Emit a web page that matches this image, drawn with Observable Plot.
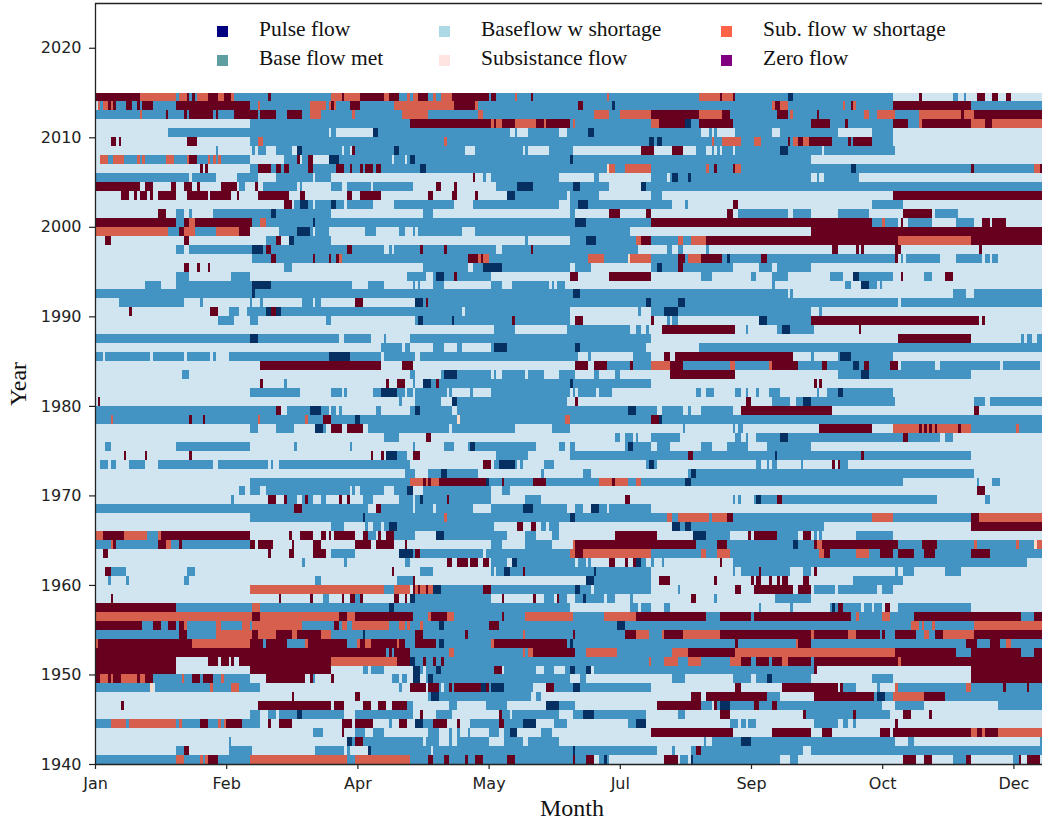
<!DOCTYPE html>
<html>
<head>
<meta charset="utf-8">
<script src="https://cdn.jsdelivr.net/npm/d3@7"></script>
<script src="https://cdn.jsdelivr.net/npm/@observablehq/plot@0.6"></script>
<style>
html,body{margin:0;padding:0;background:#fff;}
#wrap{position:relative;width:1042px;height:823px;overflow:hidden;}
.serif{position:absolute;font-family:"Liberation Serif",serif;color:#111;white-space:nowrap;line-height:1;}
.swatch{position:absolute;width:11px;height:11px;}
</style>
</head>
<body>
<div id="wrap"></div>
<script>
// Each row: run list for one year; letter = flow class, number = day the run starts.
const rows1940s = [
"B0 S31 B34 S40 B41 S42 Z43 B47 S59 B96 S99 B120 Z127 B129 Z133 B135 Z141 B142 Z145 B148 Z157 B160 Z182 B183 Z187 L190 B192 P194 B195 L196 Z217 L222 B223 L226 P227 B228 L261 B265 L268 Z308 L313 Z316 L319 B327 Z332 L334 B350 Z352 L353 Z355 L360",
"L0 B31 Z34 L36 B51 L60 B84 L95 B96 L97 P104 B105 L128 B129 P182 B183 L214 B220 L221 B227 Z229 B231 L270 B273",
"L0 B51 L52 P96 B98 Z99 B102 L125 B126 L131 B135 L136 B138 L150 B156 L163 B165 L177 B232 L233 B235 P246 B250 L305 B310 L312 B360",
"L0 B83 L87 Z94 L95 B99 L103 B106 L110 B127 L131 B135 L136 B138 L139 B142 L143 B150 L154 B156 P158 L161 B170 L174 Z212 L243 Z258 L273 Z277 L281 Z299 L303 Z304 S334 Z336 S338 Z339 S344",
"B0 S6 B12 S13 B31 S32 B33 Z40 B43 S47 B48 S49 Z50 B56 L63 Z66 L67 Z70 L75 Z94 L98 Z99 L106 B112 L113 Z116 L119 P122 B125 Z129 L134 Z138 L139 B143 Z154 B156 P163 L168 B175 L180 B203 P206 L210 B242 L245 B246 L248 B249 L252 B274 L283 B285 L287 B289 L290 Z305 L306",
"L0 B59 L63 B66 L69 B70 P77 B79 L95 B99 L121 Z124 L125 B130 L136 Z154 B155 L158 B159 L177 B182 P186 B190 L210 B222 L225 Z238 L242 Z270 B271 Z289 B290 L303 Z308 L311 Z318 L319",
"L0 Z10 L11 Z62 L90 Z91 L95 Z102 L105 Z108 L111 Z113 B119 L121 B135 L138 B149 L157 P172 B177 L183 Z214 B231 L235 Z236 B237 P238 B242 Z251 B253 Z258 B260 L300 B305 L316 B344",
"L0 Z75 L76 Z99 L101 B127 P128 B131 L166 B168 L170 Z227 L231 Z233 B256 L261 Z274 B297 P298 B301 S304 Z316 B324",
"B0 K21 L22 B23 S44 B45 S52 B55 L63 B116 L117 Z120 L126 Z127 B131 L132 B133 Z135 B136 Z137 P147 Z149 B150 P151 B156 L167 Z172 B175 P182 B185 L212 Z244 L246 Z262 L283 Z284 B285 L290 B298 L299 S305 B306 S332 B334 Z346 B347 Z355 B356",
"Z0 S2 Z5 S6 Z7 S10 Z16 S17 Z19 B22 S33 B34 Z37 B40 Z41 B45 S48 B49 L59 Z65 L80 Z82 B83 L84 Z90 L91 B113 L116 B117 L119 P121 L124 B126 P127 B129 L181 B185 L187 B220 L225 B243 L250 B252 P256 B258 L273 B296 L304 Z334"
];
const rows1950s = [
"Z0 L31 Z59 L90 B102 L104 B105 L110 P121 B124 L125 B126 P130 B132 Z152 L155 B156 L168 B171 L175 B179 P181 B183 P187 L189 B190 Z274 L275 Z334",
"Z0 L31 Z43 L47 Z48 L51 Z52 L53 Z55 S90 Z115 P120 B122 Z125 B126 Z129 B130 Z132 B133 S211 B212 S217 B222 S226 B231 S242 Z246 B250 Z252 B257 Z258 S262 Z264 B273 Z274 S306 Z307",
"Z0 B111 Z112 B113 Z114 B120 S135 B137 S163 B164 S165 Z167 B183 S187 B199 S220 Z226 S244 Z305 B328 Z334 B353 Z358",
"S0 Z1 S37 Z59 B64 Z65 B73 S80 Z81 B96 S100 Z101 S103 Z105 S115 Z116 B118 Z122 B130 P131 B133 S151 Z152 B180 P181 B182 Z244 B245 S267 Z268 B273 Z332 B336 Z341 B345 S347 B349",
"B0 Z32 B35 S46 Z60 S62 Z69 S75 Z77 S86 B90 P102 B103 Z122 B125 Z141 B142 S163 B164 Z182 B183 Z202 S206 B211 S216 Z217 S224 Z238 S273 Z274 S287 Z290 B299 Z300 B301 Z305 B313 S316 B318 Z320 S323 Z335",
"Z0 B18 Z22 B25 Z28 B31 Z32 S34 B35 S46 B48 S56 B59 S60 B79 Z91 B93 S94 B96 S98 B112 S116 B118 S119 B120 S124 B125 P131 B133 Z150 B154 P199 B202 S311 B314 S315 B316 S319 B320 S335",
"S0 Z60 S63 Z93 S96 Z99 B121 S127 Z128 S134 B137 Z155 B156 S164 B182 S194 Z206 B233 Z238 B250 Z251 B288 S290 B291 S300 B303 Z312 B353 Z358",
"Z0 B31 S60 B63 P112 B114 L181 B204 L207 B208 L212 B217 L219 B253 L254 B265 L266 B280 P281 B282 Z283 B285 L292 B293 L296 B297 L300 Z301 L303 B306 L334",
"L0 Z6 L7 Z70 L71 Z82 L83 B87 L89 Z94 L95 Z97 B99 Z101 L102 Z114 L116 Z118 L119 P120 B122 L151 Z155 L156 Z167 L168 B171 L175 Z176 B177 L180 B183 P186 B187 L194 B195 L198 B204 L205 Z227 L229 B236 L237 B259 L273",
"L0 S59 B110 S114 L120 Z121 S122 Z123 S124 Z126 S127 P129 B132 Z148 B151 P183 B185 L189 B190 L212 B222 L223 Z244 L246 Z251 L266 Z268 L273 B274 L282 B283 L298 B300 L304"
];
const rows1960s = [
"L0 B5 L6 B12 L13 B34 L36 B84 L86 B115 Z121 L122 P187 B190 L212 Z215 L219 Z236 L237 Z250 L251 Z252 L254 Z257 L258 Z260 L261 Z262 L264 Z270 L272 B289 L308",
"L0 Z4 B6 L12 B35 L38 Z113 L114 B124 L129 B151 L152 B153 P156 B158 Z163 B164 P190 B191 L212 B243 L244 B246 Z253 B254 L265 B270 L273 Z274 L275 B305 L306 B308 L312 B324 L330",
"L0 B79 L80 B95 L96 B118 L120 Z134 L136 Z138 L142 Z143 L146 Z148 L150 B151 L157 P159 B161 L183 B184 L187 B188 L189 Z196 L198 Z202 L203 Z205 P206 B208 L210 B212 L213 B216 L217 Z238 L239 B243 L355",
"L0 Z3 L5 Z66 L67 Z74 L76 Z83 L88 B90 L99 P116 B121 Z122 B124 L148 B149 S181 Z183 S186 B212 S231 B233 S237 B242 S276 Z278 B280 S290 B295 Z299 B304 Z306 B312 Z316 B320 Z334 B341",
"B0 S6 Z7 B8 Z24 S27 B29 Z32 B33 Z59 L61 Z62 L68 Z75 L76 Z83 L86 Z99 L105 Z107 L114 Z118 L119 B151 L155 B164 L174 S182 Z183 B229 Z237 B241 P266 B268 Z274 S275 Z277 B306 Z315 B321 S335 B336 S351 B352 K358 S359",
"S0 Z3 S11 B20 S24 Z25 L59 Z74 L75 Z78 L83 Z86 L88 Z89 L90 Z91 L99 Z102 B104 L107 Z108 L109 Z111 B114 L122 P130 B133 L157 B164 L168 B174 L177 Z198 L214 P228 B233 L242 Z249 L250 Z251 B260 L268 Z270 L273 B274 L275 B276 L277 B290 L304",
"L0 B90 L95 B103 L104 B106 L109 B110 P112 B115 L152 Z161 L163 Z166 L168 B170 L172 B173 L177 P220 B223 P225 B227 L278 Z334",
"L0 B59 P102 B103 S133 B134 P181 B183 S218 B220 S222 B234 S235 Z241 B243 S296 B304 Z334 S337",
"B0 Z76 B79 L104 Z107 B109 L121 B122 L129 B130 L144 B151 P163 B167 L180 B183 L186 P189 B192 L195 B196 L212",
"L0 B52 L53 Z66 L69 Z72 B73 L77 B79 Z80 B81 L83 B86 L88 Z93 L94 Z96 L97 B102 L106 B116 L121 B122 P124 B125 Z134 B135 L151 B164 L170 Z202 L204 B243 L244 B245 L246 B251 P252 B254 Z260 B262 L321 B339 L341"
];
const rows1970s = [
"L0 B55 L57 B59 L63 B65 L97 B98 L99 B101 L110 B114 P119 L121 B125 L151 B155 L158 Z336 L339",
"L0 B59 S120 Z125 S126 Z127 S128 Z131 P149 B150 Z155 B156 Z167 B172 S192 Z197 S198 B203 S206 B208 P225 B227 L308 B336 L337 B342 L345",
"L0 B118 L122 B127 P132 B134 L146 B170 L171 B186 L189 B226 P227 B229 L335",
"L0 B2 L5 B6 L8 B13 L19 B24 L45 B47 L66 B67 L68 B70 L120 Z148 L151 B152 P154 B160 L161 B162 L163 B171 L175 B210 P211 B213 L214 B252 L254 B256 L257 B258 L260 B269 L270 Z281 L282 Z283 B284 L287",
"L0 Z11 L12 Z19 L20 Z36 L37 Z105 L106 Z109 L110 P111 B115 L119 Z121 L124 B153 L165 B181 Z226 B228 P259 B260 Z292 B293 L334",
"L0 B4 L6 B31 L59 B76 L77 B97 L98 B121 L122 B133 L137 B142 P143 B145 L168 B177 L179 B181 L183 B202 P203 B205 L212 B214 L219 B231 L235 B241 L249 B256 L273",
"L0 B110 L116 Z126 L128 B198 L200 B202 L205 B206 L207 B212 L223 B244 L246 B248 L249 B252 P261 B264 Z308 B310 L322 B324 L327",
"L0 B59 L62 B69 L76 P84 B87 L88 Z90 L94 Z96 L102 B104 L135 B136 L160 B174 L181 B224 L225 B243 L244 B245 L247 Z276 L296 S304 Z314 S315 Z316 S317 Z318 S319 Z320 S321 Z329 S330 B334 S351 B352",
"B0 S6 B7 Z36 B37 Z41 B42 S62 B63 S80 B81 Z87 B90 P99 B101 K138 B139 S179 B181 Z212 P215 B216",
"B0 Z69 L71 B73 P82 B86 L89 B90 L92 B93 L94 B107 L109 B120 P122 B124 L136 B138 P203 B206 L214 B216 L224 B226 L227 B231 L243 Z246 L281 Z335 L337"
];
const rows1980s = [
"L0 Z1 L2 B116 L117 B122 L132 P136 B138 L180 Z183 L184 Z248 L250 B258 L265 B267 P270 B273 L305 B335 L339 B341",
"L0 B59 L78 B90 L94 B95 L96 B106 P109 B115 L118 B119 L121 B122 L134 B135 L136 B143 L144 B151 L181 B182 L183 B184 L191 B192 L197 B229 L231 B233 L236 B244 L246 B248 L249 B252 L253 B257 L261 B275 L276 B279 P283 B285 L304",
"L0 Z63 L64 B72 L73 Z111 L112 Z115 L118 B121 L122 P125 B128 Z130 B131 P181 B182 L212 Z274 L275 Z276 L277",
"L0 B33 L36 B120 L122 B132 P133 B138 L151 B152 L153 B155 L164 B165 L171 B177 L183 B190 L192 B198 L200 Z219 L244 B283 P292 B295 L334",
"L0 Z63 L109 Z117 L121 Z183 L188 Z190 B195 Z204 B205 S212 Z219 B224 S242 B244 S257 Z258 B268 Z277 B279 P289 B291 Z293 B295 Z303 L306 B307 L320 B322 L345 B346 L360",
"B0 L3 B4 L21 B22 L34 B35 L44 B45 L46 B51 P89 B97 L109 B110 L122 B124 L184 B188 L189 B205 L212 Z217 L219 Z221 L266 B273 L274 B283 P284 B288 L304",
"L0 B109 L117 B118 L120 B129 L133 B138 L140 B151 P152 B157 P183 B185 L210 B230",
"B0 P59 B62 L93 B95 L105 B110 L111 B120 L212 Z306 L334 B353 L354 B355 L357 B359",
"L0 B152 L160 B180 L204 B206 L208 B210 L211 Z216 L244 B248 L249 B260 P262 B265 L274 Z291 L292",
"L0 B47 L53 B59 L62 B88 L90 B122 P123 B125 P136 B137 Z159 B160 L181 Z183 L186 Z212 L213 B218 L219 B220 L222 P253 B256 Z273 L337 Z338 L339"
];
const rows1990s = [
"L0 Z13 L14 Z44 L47 B51 L55 B58 P65 Z67 P69 B71 L140 B141 L181 B207 L208 B212 P217 B222 L273 B276 L277",
"L0 B9 L34 B40 L41 B59 L60 B63 L64 B79 L83 B84 L86 Z99 L102 P122 B125 Z126 B127 P210 B212 P222 B225 L306 B307",
"B0 P60 B61 P182 B185 L264 B265 L266 B327 L332 B335",
"L0 B19 L25 B31 P60 B67 L98 B104 L110 B121 L122 B123 L124 B129 L133 B151 L155 B159 L173 B174 L175 B176 L179 B258 L259 B286 L288 P292 B295 L298 B299 L300",
"L0 B31 L36 B52 L59 B119 L126 B129 P130 B133 Z137 B138 L151 Z181 L184 Z196 L212 B231 L235 B250 L252 B258 L264 B280 L285 P289 B291 L304 Z307 L308 B316 L319 Z324 L327",
"L0 Z34 L36 Z39 L40 Z43 L44 B72 L75 B125 L142 B144 P148 B155 L181 B183 L189 B212 P214 B216 Z222 B224 L243 B253 L258 B260 L273",
"L0 B60 Z67 B69 Z83 B84 Z89 B90 Z92 S93 B94 Z142 S146 Z147 S148 B150 S188 B194 K203 S204 B212 Z222 B225 S226 Z231 B239 P241 B242 Z254 B256 Z305 L306 B307 L308 B309 L322 B328 L338 B339 L341 B342 L344",
"L0 B31 L34 B36 P60 B64 Z65 B67 Z96 B98 L110 B112 L113 B114 Z124 B125 Z133 B134 L153 B155 Z166 B167 L207 B218 L220 B222 L224 B233 L234 Z281 L283 Z290 L291 Z292 L293 Z305 L307 Z337 L338",
"L0 Z4 L6 Z34 L36 B65 Z69 L71 P74 B76 L90 B164 L165 B181 P187 B191 S206 Z208 B212 S222 B224 S227 Z233 S306 Z334",
"S0 B28 Z32 S34 B38 S46 Z55 L59 B70 P77 B82 L83 B84 L89 B103 L107 B116 L118 B121 L122 B123 L140 B145 L204 Z273"
];
const rows2000s = [
"Z0 B31 Z34 S36 Z38 B60 S63 B65 P83 B84 P183 B187 Z212 B296 S300 B301 L306 Z307 L308 B310 L319 B328 L335 Z338 L341 Z342 L347",
"L0 Z24 L27 B31 L34 B36 L37 B45 P67 B69 L90 B125 L129 B181 L183 Z196 L200 Z210 L212 Z241 L243 B245 L264 B266 L273 B283 L295 Z308 L319 B320 L329",
"L0 Z72 L75 B76 P78 B81 L83 B84 P90 B92 L95 B96 L106 B114 L137 B144 L177 B181 P184 B188 L220 B225 L226 Z243 L245 B296 L308",
"L0 Z10 L13 Z15 L16 Z17 L20 Z21 L22 Z24 L31 Z35 L43 Z44 L52 Z54 L55 Z62 L74 Z78 L80 Z96 L98 Z101 L109 Z127 L129 Z136 L138 Z145 L146 P157 B160 L180 B181 L192 B212 L216 Z304",
"Z0 L17 Z19 L22 Z29 L31 Z34 L37 Z39 L40 Z48 L54 B55 L57 Z61 L62 B64 L77 B78 L79 B90 L94 B96 L105 B106 L121 Z130 L132 Z137 L138 B153 P161 B167 P182 B185 L196 P208 B210",
"B0 L36 B37 L46 B54 L62 B69 L83 B84 L90 Z144 L145 B148 L149 B151 L177 B190 L192 B212 L218 B219 P220 B222 P226 B227 L273 B275 L276 B278 L291",
"L0 Z40 L41 Z42 L43 B59 Z62 B67 Z69 B71 Z72 B74 Z81 B83 Z92 B95 Z97 B98 Z101 B102 Z103 B106 Z107 B109 P124 B126 K195 S196 B198 S202 B212 S233 B234 Z236 B237 Z243 S244 B246 P288 B290 Z334 B335 S358 Z360",
"L0 S2 B5 S7 B11 S16 B17 S18 B19 S27 B30 S35 Z36 B39 S43 B44 S45 B46 S47 B48 L59 B72 Z77 L78 B79 Z81 L83 P89 B93 L113 B114 L118 B119 P120 B122 P181 B182 L273",
"L0 B46 L47 B60 L61 B62 L65 B69 L75 P77 B79 L94 B95 L97 Z98 B99 P114 B116 L141 B145 L163 B164 L165 B173 L182 Z208 L213 Z220 L224 B229 L233 B235 L236 B237 L238 B239 L243 B244 P261 B264 L277 B278 L305",
"L0 Z6 L8 Z9 L10 Z35 L39 B59 S62 B64 S133 B134 P211 B213 P214 B216 S235 B236 S239 B246 S251 B254 Z264 B265 S266 Z268 S270 Z272 B281 Z287 B288 Z289 B296 L304"
];
const rows2010s = [
"L0 B28 L89 B90 L92 P106 B108 L158 B160 L161 B165 L177 B180 P188 B190 L231 B234 L235 B236 L237 B244 L258 B261 L283 B296 L304",
"L0 B59 Z120 S151 Z152 S153 Z155 S160 Z168 S171 Z172 B181 S182 B183 S212 Z215 P225 B227 Z230 B243 Z273 B280 Z286 B287 Z304 B310 S314 Z315 S334 Z339 S342",
"B0 S17 B18 Z27 B28 Z34 B35 Z36 B45 Z46 B47 Z53 B62 Z63 B69 Z73 B79 S82 B86 S98 B99 S117 B127 S146 B148 S190 B196 S200 Z212 S230 Z239 B242 Z260 B264 S265 B266 Z275 B276 S293 B295 S298 B305 S314 Z330 S331 Z335",
"L0 S1 B2 S3 Z5 S6 Z7 B8 Z12 B14 Z16 B17 Z18 B22 Z31 B59 S62 B63 S82 B88 S89 Z90 S91 B92 Z97 B101 S114 Z137 S145 B146 Z184 B186 P197 B198 S258 Z259 S261 B264 S285 B286 Z288 S289 B290 Z304 B334",
"Z0 S17 B31 S32 Z35 B36 Z37 B38 S39 Z43 S47 Z49 S52 B53 Z66 B67 S90 Z94 S95 Z101 S110 Z112 B116 S119 B120 S121 Z123 B127 S129 B130 S132 Z136 B150 Z151 B153 S160 B161 Z166 B167 S195 B196 S230 Z238 S239 Z243 B244 P264 B266 L304 Z314 L315 B327 L329 B331 L332 Z336 L339 Z342 L344 Z347 L349"
];

const firstYear = 1940;
const yearEnd = 365;
const flowCodes = ["P","B","L","K","S","Z"];
const cellColors = ["#053061","#4393c3","#d1e5f0","#fddbc7","#d6604d","#67001f"];

const monthTicks = [0,50,100,150,200,250,300,350];
const monthLabels = ["Jan","Feb","Apr","May","Jul","Sep","Oct","Dec"];
const yearTicks = [1940,1950,1960,1970,1980,1990,2000,2010,2020];

const legendLabels = [["Pulse flow","Base flow met"],["Baseflow w shortage","Subsistance flow"],["Sub. flow w shortage","Zero flow"]];
const legendColors = [["#000080","#5f9ea0"],["#add8e6","#ffe4e1"],["#ff6347","#800080"]];

const allRows = [...rows1940s,...rows1950s,...rows1960s,...rows1970s,...rows1980s,...rows1990s,...rows2000s,...rows2010s];
const runs = allRows.flatMap((row,i)=>{
  const toks = row.split(" ").map(t=>({code:t[0],start:+t.slice(1)}));
  return toks.map((t,j)=>({
    year:firstYear+i, code:t.code, start:t.start,
    end:j+1<toks.length?toks[j+1].start:yearEnd
  }));
});

const W=1042,H=823,ML=95,MT=3,MB=59;
const chart = Plot.plot({
  width:W,height:H,marginLeft:ML,marginRight:0,marginTop:MT,marginBottom:MB,
  style:{background:"#fff",overflow:"hidden"},
  x:{domain:[0,360.9],range:[ML,W]},
  y:{domain:[1940,2025]},
  color:{domain:flowCodes,range:cellColors},
  marks:[
    Plot.rect(runs,{x1:"start",x2:"end",y1:"year",y2:d=>d.year+1,fill:"code",inset:0,shapeRendering:"crispEdges"}),
    Plot.ruleX([0],{stroke:"#222",strokeWidth:1.3}),
    Plot.ruleY([1940,2025],{stroke:"#222",strokeWidth:1.3}),
    Plot.axisX({ticks:monthTicks,tickFormat:d=>monthLabels[monthTicks.indexOf(d)],tickSize:5,tickPadding:8,label:null,fontSize:16,fontFamily:"DejaVu Sans",color:"#222",stroke:"#222",strokeWidth:1.2}),
    Plot.axisY({ticks:yearTicks,tickFormat:"d",tickSize:6,tickPadding:8,label:null,fontSize:16,fontFamily:"DejaVu Sans",color:"#222",stroke:"#222",strokeWidth:1.2})
  ]
});
const wrap=document.getElementById("wrap");
wrap.appendChild(chart);

const legendX=[[217,259],[439,481],[721,763]];
const legendSwatchY=[26,55];
const legendTextY=[19,48];
legendLabels.forEach((col,c)=>col.forEach((txt,r)=>{
  const s=document.createElement("div");
  s.className="swatch";
  s.style.left=legendX[c][0]+"px";
  s.style.top=legendSwatchY[r]+"px";
  s.style.background=legendColors[c][r];
  wrap.appendChild(s);
  const t=document.createElement("div");
  t.className="serif";
  t.textContent=txt;
  t.style.left=legendX[c][1]+"px";
  t.style.top=legendTextY[r]+"px";
  t.style.fontSize="21.5px";
  wrap.appendChild(t);
}));
const xt=document.createElement("div");
xt.className="serif";xt.textContent="Month";
xt.style.cssText+="left:572px;top:796px;font-size:24px;transform:translateX(-50%);";
wrap.appendChild(xt);
const yt=document.createElement("div");
yt.className="serif";yt.textContent="Year";
yt.style.cssText+="left:18px;top:384px;font-size:24px;transform:translate(-50%,-50%) rotate(-90deg);";
wrap.appendChild(yt);
</script>
</body>
</html>
